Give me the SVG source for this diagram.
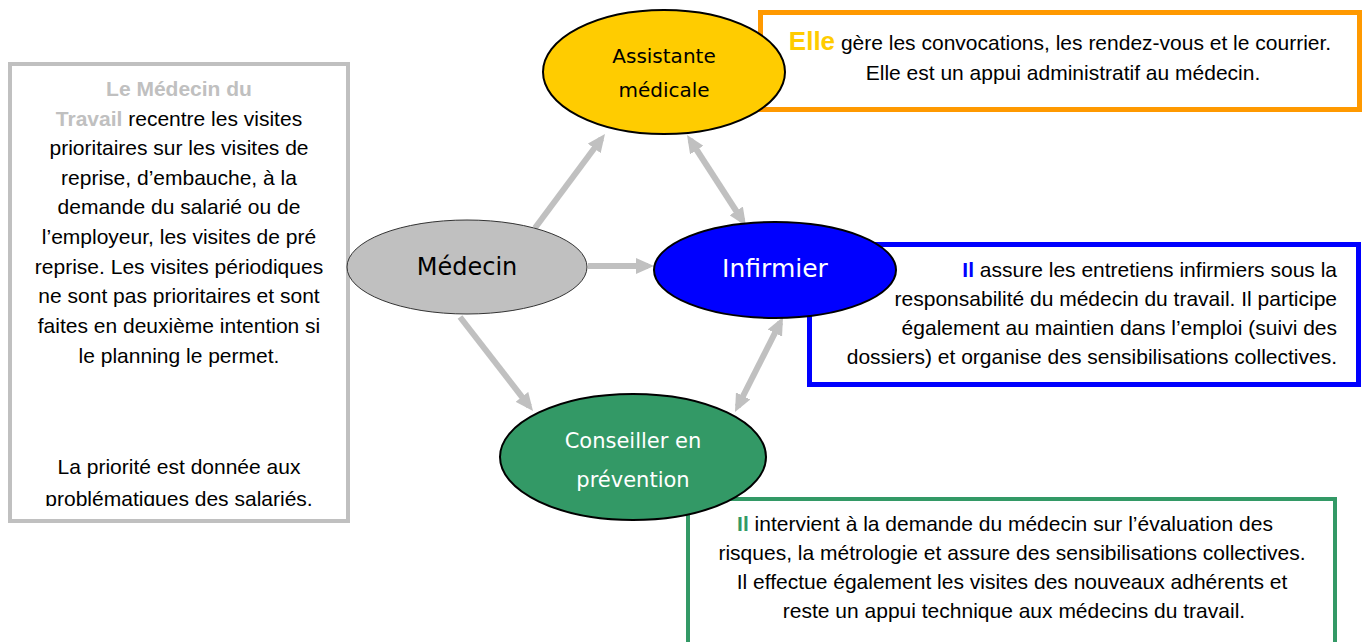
<svg xmlns="http://www.w3.org/2000/svg" width="1365" height="642" viewBox="0 0 1365 642">
<style>
.txt{font-family:"Liberation Sans",Arial,sans-serif;font-size:21px;fill:#000}
.lbl{font-family:"DejaVu Sans",sans-serif;text-anchor:middle}
.conn{fill:none;stroke:#C0C0C0;stroke-width:6;stroke-linecap:butt}
.ell{stroke:#000;stroke-width:2}
</style>
<defs>
<marker id="ah" viewBox="0 0 18 16" refX="12" refY="8" markerWidth="18" markerHeight="16" markerUnits="userSpaceOnUse" orient="auto-start-reverse">
<path d="M0,0 L18,8 L0,16 z" fill="#C0C0C0"/>
</marker>
<clipPath id="leftclip"><rect x="12" y="66" width="334" height="440"/></clipPath>
</defs>
<rect width="1365" height="642" fill="#fff"/>

<g id="box-medecin-travail">
<rect x="10" y="64" width="338" height="457" fill="#fff" stroke="#C0C0C0" stroke-width="4"/>
<g clip-path="url(#leftclip)" class="txt" text-anchor="middle">
<text x="179" y="96" font-weight="bold" fill="#C0C0C0">Le Médecin du</text>
<text x="179" y="126"><tspan font-weight="bold" fill="#C0C0C0">Travail</tspan> recentre les visites</text>
<text x="179" y="155">prioritaires sur les visites de</text>
<text x="179" y="185">reprise, d’embauche, à la</text>
<text x="179" y="214">demande du salarié ou de</text>
<text x="179" y="244">l’employeur, les visites de pré</text>
<text x="179" y="274">reprise. Les visites périodiques</text>
<text x="179" y="303">ne sont pas prioritaires et sont</text>
<text x="179" y="333">faites en deuxième intention si</text>
<text x="179" y="363">le planning le permet.</text>
<text x="179" y="474">La priorité est donnée aux</text>
<text x="179" y="506">problématiques des salariés,</text>
</g>
</g>

<g id="box-assistante">
<rect x="760.5" y="12.5" width="599" height="97" fill="#fff" stroke="#FF9900" stroke-width="5"/>
<text class="txt" x="1060" y="50" text-anchor="middle"><tspan font-weight="bold" font-size="26" fill="#FFCC00">Elle</tspan> gère les convocations, les rendez-vous et le courrier.</text>
<text class="txt" x="1063" y="80" text-anchor="middle">Elle est un appui administratif au médecin.</text>
</g>

<g id="box-infirmier">
<rect x="809.5" y="244.5" width="549" height="140" fill="#fff" stroke="#0000FF" stroke-width="5"/>
<g class="txt" text-anchor="end">
<text x="1337" y="277"><tspan font-weight="bold" fill="#0000FF">Il</tspan> assure les entretiens infirmiers sous la</text>
<text x="1337" y="306">responsabilité du médecin du travail. Il participe</text>
<text x="1337" y="335">également au maintien dans l’emploi (suivi des</text>
<text x="1337" y="364">dossiers) et organise des sensibilisations collectives.</text>
</g>
</g>

<g id="box-conseiller">
<rect x="688" y="499" width="647" height="200" fill="#fff" stroke="#339966" stroke-width="4"/>
<g class="txt" text-anchor="middle">
<text x="1005" y="531"><tspan font-weight="bold" fill="#339966">Il</tspan> intervient à la demande du médecin sur l’évaluation des</text>
<text x="1012" y="560">risques, la métrologie et assure des sensibilisations collectives.</text>
<text x="1012" y="589">Il effectue également les visites des nouveaux adhérents et</text>
<text x="1014" y="618">reste un appui technique aux médecins du travail.</text>
</g>
</g>

<g id="connectors">
<path class="conn" d="M535,228 L601.4,138.8" marker-end="url(#ah)"/>
<path class="conn" d="M690.3,140 L742.7,221" marker-start="url(#ah)" marker-end="url(#ah)"/>
<path class="conn" d="M588,266 L648,266" marker-end="url(#ah)"/>
<path class="conn" d="M460,317 L529.3,406.3" marker-end="url(#ah)"/>
<path class="conn" d="M737.7,406.6 L780.3,322.4" marker-start="url(#ah)" marker-end="url(#ah)"/>
</g>

<g id="node-assistante">
<ellipse class="ell" cx="664" cy="72" rx="121" ry="62" fill="#FFCC00"/>
<text class="lbl" x="664" y="63" font-size="20" fill="#000">Assistante</text>
<text class="lbl" x="664" y="97" font-size="20" fill="#000">médicale</text>
</g>

<g id="node-medecin">
<ellipse cx="467" cy="267" rx="120" ry="47" fill="#C0C0C0" stroke="#333" stroke-width="1"/>
<text class="lbl" x="467" y="275" font-size="24" fill="#000">Médecin</text>
</g>

<g id="node-infirmier">
<ellipse class="ell" cx="775" cy="270" rx="121" ry="48" fill="#0000FF"/>
<text class="lbl" x="775" y="277" font-size="25" fill="#fff">Infirmier</text>
</g>

<g id="node-conseiller">
<ellipse class="ell" cx="633" cy="457" rx="133" ry="63" fill="#339966"/>
<text class="lbl" x="633" y="448" font-size="21" fill="#fff">Conseiller en</text>
<text class="lbl" x="633" y="487" font-size="21" fill="#fff">prévention</text>
</g>
</svg>
